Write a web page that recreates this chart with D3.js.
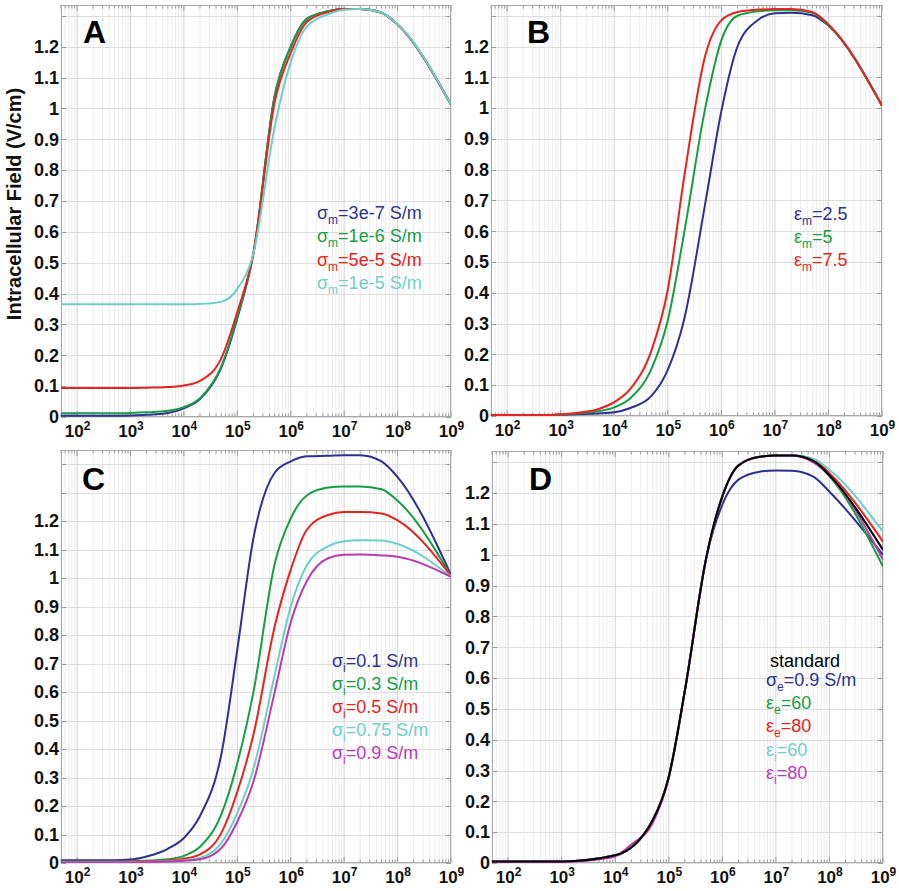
<!DOCTYPE html>
<html><head><meta charset="utf-8">
<script src="https://cdn.jsdelivr.net/npm/d3@7"></script>
<style>
body{margin:0;background:#fff}
text{font-family:"Liberation Sans",Arial,Helvetica,sans-serif}
</style>
</head><body>
<svg id="chart" width="899" height="891"></svg>
<script>
// ---------------- DATA ----------------
const freq = [50,100,200,500,1e3,2e3,5e3,1e4,2e4,5e4,1e5,2e5,5e5,1e6,2e6,5e6,1e7,2e7,5e7,1e8,1e9];
const freqD = [50,100,200,500,1e3,1e4,5e4,1e5,2e5,5e5,1e6,2e6,5e6,1e7,2e7,5e7,1e8,1e9];
const xTickExponents = [2,3,4,5,6,7,8,9];
const yTickValues = [0,0.1,0.2,0.3,0.4,0.5,0.6,0.7,0.8,0.9,1,1.1,1.2];
const yTickText = ["0","0.1","0.2","0.3","0.4","0.5","0.6","0.7","0.8","0.9","1","1.1","1.2"];
const panelLetters = ["A","B","C","D"];
const yAxisTitle = "Intracellular Field (V/cm)";

// Panel A: membrane conductivity
const aSigmaM3e7 = [0.004,0.004,0.004,0.004,0.005,0.007,0.013,0.028,0.058,0.16,0.32,0.53,1.04,1.2,1.29,1.315,1.322,1.322,1.31,1.272,1.012];
const aSigmaM1e6 = [0.012,0.012,0.012,0.012,0.013,0.015,0.02,0.032,0.061,0.163,0.325,0.53,1.04,1.2,1.29,1.315,1.322,1.322,1.31,1.272,1.012];
const aSigmaM5e5 = [0.094,0.094,0.094,0.094,0.094,0.095,0.097,0.102,0.117,0.19,0.34,0.53,1.02,1.18,1.28,1.312,1.322,1.322,1.31,1.272,1.012];
const aSigmaM1e5 = [0.365,0.365,0.365,0.365,0.365,0.365,0.365,0.365,0.366,0.373,0.415,0.53,0.94,1.15,1.265,1.305,1.32,1.322,1.31,1.273,1.012];
const aLabels = [["σ","m","=3e-7 S/m"],["σ","m","=1e-6 S/m"],["σ","m","=5e-5 S/m"],["σ","m","=1e-5 S/m"]];

// Panel B: membrane permittivity
const bEpsM25 = [0.003,0.003,0.003,0.003,0.004,0.006,0.008,0.012,0.026,0.066,0.15,0.31,0.69,0.99,1.2,1.288,1.308,1.31,1.302,1.268,1.008];
const bEpsM5  = [0.003,0.003,0.003,0.003,0.005,0.008,0.015,0.028,0.058,0.155,0.31,0.59,1.0,1.22,1.3,1.315,1.318,1.318,1.31,1.27,1.008];
const bEpsM75 = [0.003,0.003,0.003,0.003,0.006,0.01,0.022,0.045,0.088,0.215,0.41,0.77,1.17,1.285,1.312,1.32,1.322,1.322,1.312,1.272,1.008];
const bLabels = [["ε","m","=2.5"],["ε","m","=5"],["ε","m","=7.5"]];

// Panel C: intracellular conductivity
const cSigmaI01  = [0.01,0.01,0.01,0.01,0.012,0.023,0.05,0.088,0.165,0.38,0.75,1.14,1.37,1.41,1.428,1.43,1.432,1.432,1.41,1.355,1.012];
const cSigmaI03  = [0.005,0.005,0.005,0.005,0.006,0.008,0.013,0.025,0.057,0.17,0.35,0.6,1.05,1.21,1.29,1.318,1.322,1.322,1.312,1.272,1.008];
const cSigmaI05  = [0.004,0.004,0.004,0.004,0.005,0.006,0.009,0.015,0.03,0.105,0.25,0.45,0.83,1.03,1.17,1.222,1.232,1.232,1.227,1.203,1.008];
const cSigmaI075 = [0.003,0.003,0.003,0.003,0.003,0.004,0.006,0.01,0.018,0.07,0.175,0.33,0.66,0.9,1.045,1.112,1.13,1.133,1.132,1.12,1.005];
const cSigmaI09  = [0.002,0.002,0.002,0.002,0.002,0.003,0.005,0.008,0.013,0.052,0.145,0.285,0.6,0.845,0.99,1.07,1.082,1.083,1.08,1.075,1.005];
const cLabels = [["σ","i","=0.1 S/m"],["σ","i","=0.3 S/m"],["σ","i","=0.5 S/m"],["σ","i","=0.75 S/m"],["σ","i","=0.9 S/m"]];

// Panel D: extracellular / intracellular variations (sampled at freqD, except εi=80 at freq)
const dSigmaE09 = [0.005,0.005,0.005,0.005,0.005,0.025,0.139,0.28,0.56,0.99,1.163,1.244,1.27,1.274,1.273,1.254,1.205,1.0];
const dEpsE60   = [0.005,0.005,0.005,0.005,0.005,0.025,0.139,0.28,0.56,0.99,1.19,1.29,1.318,1.322,1.322,1.303,1.255,0.962];
const dEpsE80   = [0.005,0.005,0.005,0.005,0.005,0.025,0.139,0.28,0.56,0.99,1.19,1.29,1.318,1.322,1.322,1.31,1.265,1.043];
const dEpsI60   = [0.005,0.005,0.005,0.005,0.005,0.025,0.139,0.28,0.56,0.99,1.19,1.29,1.318,1.322,1.323,1.312,1.276,1.075];
const dEpsI80   = [0.004,0.004,0.004,0.004,0.004,0.006,0.012,0.022,0.06,0.13,0.275,0.56,0.99,1.19,1.29,1.318,1.322,1.322,1.3,1.258,0.984];
const dStandard = [0.005,0.005,0.005,0.005,0.005,0.025,0.139,0.28,0.56,0.99,1.19,1.29,1.318,1.322,1.322,1.305,1.258,1.016];
const dLabels = [["","","standard"],["σ","e","=0.9 S/m"],["ε","e","=60"],["ε","e","=80"],["ε","i","=60"],["ε","i","=80"]];

// ---------------- STYLE / LAYOUT ----------------
const C = {blue:"#2e3192", green:"#159e44", red:"#e8231d", cyan:"#6dd0c8", magenta:"#b93bb4", black:"#000000"};
const xDomain = [50, 1e9];

const panels = [
  {letter:panelLetters[0], x0:61,  y0:5,   w:390, h:412, ymax:1.335, gridMax:1.3,
   series:[{f:freq,v:aSigmaM3e7,c:C.blue},{f:freq,v:aSigmaM1e6,c:C.green},{f:freq,v:aSigmaM5e5,c:C.red},{f:freq,v:aSigmaM1e5,c:C.cyan}],
   legend:{x:317, y:219, step:23.3, items:aLabels.map((l,i)=>({l, c:[C.blue,C.green,C.red,C.cyan][i]}))},
   lx:83, ly:43},
  {letter:panelLetters[1], x0:491, y0:5,   w:391, h:411, ymax:1.335, gridMax:1.3,
   series:[{f:freq,v:bEpsM25,c:C.blue},{f:freq,v:bEpsM5,c:C.green},{f:freq,v:bEpsM75,c:C.red}],
   legend:{x:794, y:220, step:23, items:bLabels.map((l,i)=>({l, c:[C.blue,C.green,C.red][i]}))},
   lx:527, ly:43},
  {letter:panelLetters[2], x0:61,  y0:450, w:390, h:413, ymax:1.45, gridMax:1.4,
   series:[{f:freq,v:cSigmaI01,c:C.blue},{f:freq,v:cSigmaI03,c:C.green},{f:freq,v:cSigmaI05,c:C.red},{f:freq,v:cSigmaI075,c:C.cyan},{f:freq,v:cSigmaI09,c:C.magenta}],
   legend:{x:332, y:667, step:23, items:cLabels.map((l,i)=>({l, c:[C.blue,C.green,C.red,C.cyan,C.magenta][i]}))},
   lx:82, ly:490},
  {letter:panelLetters[3], x0:492, y0:451, w:391, h:412, ymax:1.337, gridMax:1.3,
   series:[{f:freqD,v:dSigmaE09,c:C.blue},{f:freqD,v:dEpsE60,c:C.green},{f:freqD,v:dEpsE80,c:C.red},{f:freqD,v:dEpsI60,c:C.cyan},{f:freq,v:dEpsI80,c:C.magenta},{f:freqD,v:dStandard,c:C.black}],
   legend:{x:766, y:686, step:23.2, items:dLabels.map((l,i)=>({l, c:[C.black,C.blue,C.green,C.red,C.cyan,C.magenta][i]})), firstX:770, firstY:667},
   lx:529, ly:490}
];

const svg = d3.select("#chart");

// minor log ticks
const minorVals = [];
for (let e = 1; e <= 8; e++) for (let m = 1; m <= 9; m++) {
  const v = m * Math.pow(10, e);
  if (v >= xDomain[0] && v <= xDomain[1]) minorVals.push(v);
}
minorVals.push(1e9);

panels.forEach((p, pi) => {
  const x = d3.scaleLog().domain(xDomain).range([p.x0, p.x0 + p.w]);
  const y = d3.scaleLinear().domain([0, p.ymax]).range([p.y0 + p.h, p.y0]);
  const g = svg.append("g");
  const clipId = "clip" + pi;
  svg.append("clipPath").attr("id", clipId).append("rect")
    .attr("x", p.x0).attr("y", p.y0).attr("width", p.w).attr("height", p.h);

  g.append("rect").attr("x", p.x0).attr("y", p.y0).attr("width", p.w).attr("height", p.h).attr("fill", "#fff");

  const isMajor = v => Math.abs(Math.log10(v) - Math.round(Math.log10(v))) < 1e-9;
  g.append("g").selectAll("line").data(minorVals.filter(v => !isMajor(v))).join("line")
    .attr("x1", d => x(d)).attr("x2", d => x(d)).attr("y1", p.y0).attr("y2", p.y0 + p.h)
    .attr("stroke", "#ececec").attr("stroke-width", 1);
  const gridY = d3.range(0, Math.round(p.gridMax * 10) + 1).map(i => i / 10);
  g.append("g").selectAll("line").data(gridY).join("line")
    .attr("x1", p.x0).attr("x2", p.x0 + p.w).attr("y1", d => Math.round(y(d)) + 0.5).attr("y2", d => Math.round(y(d)) + 0.5)
    .attr("stroke", "#dedede").attr("stroke-width", 1);
  const decades = xTickExponents.map(e => Math.pow(10, e));
  g.append("g").selectAll("line").data(decades).join("line")
    .attr("x1", d => x(d)).attr("x2", d => x(d)).attr("y1", p.y0).attr("y2", p.y0 + p.h)
    .attr("stroke", "#d2d2d2").attr("stroke-width", 1);

  const tk = g.append("g").attr("stroke", "#9a9a9a").attr("stroke-width", 1);
  minorVals.forEach(v => {
    const L = isMajor(v) ? 6 : 3.5;
    tk.append("line").attr("x1", x(v)).attr("x2", x(v)).attr("y1", p.y0).attr("y2", p.y0 + L);
    tk.append("line").attr("x1", x(v)).attr("x2", x(v)).attr("y1", p.y0 + p.h).attr("y2", p.y0 + p.h - L);
  });
  gridY.forEach(v => {
    const yy = Math.round(y(v)) + 0.5;
    tk.append("line").attr("x1", p.x0).attr("x2", p.x0 + 5).attr("y1", yy).attr("y2", yy);
    tk.append("line").attr("x1", p.x0 + p.w).attr("x2", p.x0 + p.w - 5).attr("y1", yy).attr("y2", yy);
  });

  g.append("rect").attr("x", p.x0 + 0.5).attr("y", p.y0 + 0.5).attr("width", p.w - 1).attr("height", p.h - 1)
    .attr("fill", "none").attr("stroke", "#a8a8a8").attr("stroke-width", 1);

  const yAxis = d3.axisLeft(y).tickValues(yTickValues).tickSize(0).tickPadding(2)
    .tickFormat((d, i) => yTickText[i]);
  const ya = g.append("g").attr("transform", `translate(${p.x0},0)`).call(yAxis);
  ya.select(".domain").remove();
  ya.selectAll("text").attr("font-size", 18).attr("font-weight", "bold").attr("fill", "#111")
    .attr("font-family", '"Liberation Sans",Arial,sans-serif');

  const xAxis = d3.axisBottom(x).tickValues(decades).tickSize(0).tickPadding(8).tickFormat(() => "");
  const xa = g.append("g").attr("transform", `translate(0,${p.y0 + p.h})`).call(xAxis);
  xa.select(".domain").remove();
  xa.selectAll("text").each(function(d) {
    const t = d3.select(this);
    t.text("").attr("font-size", 17).attr("font-weight", "bold").attr("fill", "#111")
      .attr("font-family", '"Liberation Sans",Arial,sans-serif');
    t.append("tspan").text("10");
    t.append("tspan").attr("font-size", 12).attr("dy", -7).text(String(Math.round(Math.log10(d))));
  });

  const lg = g.append("g").attr("clip-path", `url(#${clipId})`);
  p.series.forEach(s => {
    const line = d3.line().x((d, i) => x(s.f[i])).y(d => y(d)).curve(d3.curveMonotoneX);
    lg.append("path").datum(s.v).attr("d", line).attr("fill", "none")
      .attr("stroke", s.c).attr("stroke-width", 2).attr("stroke-linejoin", "round");
  });

  g.append("text").attr("x", p.lx).attr("y", p.ly).attr("font-size", 32).attr("font-weight", "bold")
    .attr("fill", "#000").text(p.letter);

  const L = p.legend;
  L.items.forEach((it, i) => {
    let tx = L.x, ty;
    if (L.firstY !== undefined) {
      if (i === 0) { tx = L.firstX; ty = L.firstY; } else { ty = L.y + (i - 1) * L.step; }
    } else { ty = L.y + i * L.step; }
    const t = g.append("text").attr("x", tx).attr("y", ty).attr("font-size", 18).attr("fill", it.c);
    if (it.l[0]) {
      t.append("tspan").text(it.l[0]);
      t.append("tspan").attr("font-size", 12).attr("dy", 5).text(it.l[1]);
      t.append("tspan").attr("dy", -5).text(it.l[2]);
    } else {
      t.append("tspan").text(it.l[2]);
    }
  });
});

svg.append("text").attr("transform", "translate(21,204) rotate(-90)").attr("text-anchor", "middle")
  .attr("font-size", 20).attr("font-weight", "bold").attr("fill", "#111").text(yAxisTitle);
</script>
</body></html>
